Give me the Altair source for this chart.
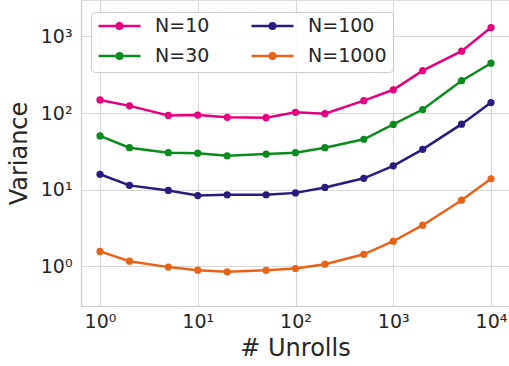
import altair as alt
import pandas as pd

unrolls = [1, 2, 5, 10, 20, 50, 100, 200, 500, 1000, 2000, 5000, 10000]
n10 = [148, 124, 93, 94, 88, 87, 102, 98, 145, 201, 357, 641, 1300]
n30 = [50.3, 35.3, 30.4, 30.0, 27.7, 29.2, 30.4, 35.3, 45.5, 71, 111, 264, 446]
n100 = [15.9, 11.4, 9.8, 8.4, 8.6, 8.6, 9.1, 10.7, 14.1, 20.5, 33.6, 71.6, 137]
n1000 = [1.57, 1.17, 0.98, 0.895, 0.85, 0.89, 0.94, 1.07, 1.44, 2.13, 3.45, 7.3, 13.9]

series_names = ["N=10", "N=30", "N=100", "N=1000"]
series_values = [n10, n30, n100, n1000]
series_colors = ["#e6007e", "#0b8a1d", "#2b1a80", "#e8631a"]
x_ticks = [1, 10, 100, 1000, 10000]
y_ticks = [1, 10, 100, 1000]

rows = []
for name, vals in zip(series_names, series_values):
    for u, v in zip(unrolls, vals):
        rows.append({"unrolls": u, "variance": v, "series": name})
df = pd.DataFrame(rows)

FONT = "DejaVu Sans"
TXT = "#262626"
GRID = "#d9d9d9"
sup_expr = "'10' + ['⁰','¹','²','³','⁴'][round(log(datum.value)/LN10)]"

# legend glyph: a line with a dot (concentric stroked rings look like a filled disk)
def ring(r):
    return f"M{r},0A{r},{r},0,1,1,-{r},0A{r},{r},0,1,1,{r},0"

legend_symbol = "M-1,0H1 " + " ".join(ring(r) for r in (0.03, 0.08, 0.13))

x_enc = alt.X(
    "unrolls:Q",
    scale=alt.Scale(type="log", domain=[0.639, 15280], nice=False),
    axis=alt.Axis(
        title="# Unrolls", values=x_ticks, labelExpr=sup_expr,
        ticks=False, tickSize=0, labelPadding=6, titlePadding=5,
        labelFontSize=19, titleFontSize=24, labelFont=FONT, titleFont=FONT,
        labelColor=TXT, titleColor=TXT, titleFontWeight="normal",
        domainColor="#cccccc", domainWidth=1.2, gridColor=GRID, gridWidth=1.2,
    ),
)
y_enc = alt.Y(
    "variance:Q",
    scale=alt.Scale(type="log", domain=[0.305, 2975], nice=False),
    axis=alt.Axis(
        title="Variance", values=y_ticks, labelExpr=sup_expr,
        ticks=False, tickSize=0, labelPadding=9, titlePadding=9,
        labelFontSize=19, titleFontSize=24, labelFont=FONT, titleFont=FONT,
        labelColor=TXT, titleColor=TXT, titleFontWeight="normal",
        domainColor="#cccccc", domainWidth=1.2, gridColor=GRID, gridWidth=1.2,
    ),
)
color_scale = alt.Scale(domain=series_names, range=series_colors)

chart = alt.Chart(df).mark_line(
    strokeWidth=2.5,
    point=alt.OverlayMarkDef(filled=True, size=52, opacity=1),
).encode(
    x=x_enc, y=y_enc,
    color=alt.Color(
        "series:N", scale=color_scale,
        legend=alt.Legend(
            title=None, orient="none", legendX=10, legendY=12,
            columns=2, columnPadding=40, rowPadding=11, clipHeight=16,
            symbolType=legend_symbol, symbolStrokeWidth=2.5,
            symbolSize=1764, symbolOffset=0, labelOffset=13,
            labelFontSize=19, labelFont=FONT, labelColor=TXT,
            padding=6, cornerRadius=4, strokeColor="#cccccc",
            fillColor="rgba(255,255,255,0.85)",
        ),
    ),
).properties(
    width=428, height=306,
    autosize=alt.AutoSizeParams(type="none"),
    padding={"left": 81, "top": 0, "right": 0, "bottom": 60},
).configure_view(stroke=None).configure(background="white")

chart.save("out.html", embed_options={"renderer": "svg", "actions": False})
